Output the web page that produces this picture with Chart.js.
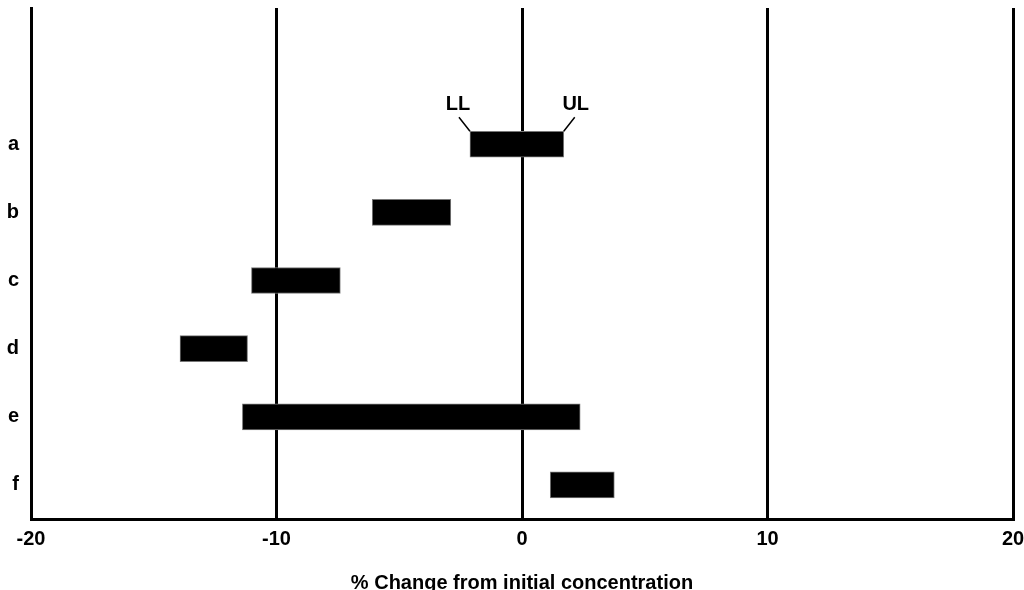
<!DOCTYPE html>
<html>
<head>
<meta charset="utf-8">
<script src="https://cdn.jsdelivr.net/npm/chart.js@4"></script>
<style>
  html, body { margin: 0; padding: 0; background: #fff; overflow: hidden; }
  #wrap { width: 1024px; height: 600px; }
</style>
</head>
<body>
<div id="wrap"><canvas id="c" width="1024" height="600"></canvas></div>
<script>
// Sample groups, top to bottom
const categories = ['a', 'b', 'c', 'd', 'e', 'f'];
// Lower and upper limits of % change for each group
const lowerLimits = [-2.12, -6.10, -11.02, -13.93, -11.39, 1.15];
const upperLimits = [1.70, -2.90, -7.40, -11.18, 2.37, 3.76];
// X-axis tick values
const xTicks = [-20, -10, 0, 10, 20];

const FONT = "'Liberation Sans', Arial, sans-serif";

const barData = categories.map((c, i) => ({ y: i, x: [lowerLimits[i], upperLimits[i]] }));

// Labels the ends of the first bar with LL / UL and short leader lines
const limitLabels = {
  id: 'limitLabels',
  afterDatasetsDraw(chart) {
    const bar = chart.getDatasetMeta(0).data[0];
    if (!bar) return;
    const props = bar.getProps(['x', 'y', 'base', 'height'], true);
    const left = Math.min(props.x, props.base);
    const right = Math.max(props.x, props.base);
    const top = props.y - props.height / 2;
    const ctx = chart.ctx;
    ctx.save();
    ctx.strokeStyle = '#000';
    ctx.lineWidth = 1.5;
    ctx.beginPath();
    ctx.moveTo(left, top);
    ctx.lineTo(left - 11, top - 14);
    ctx.moveTo(right, top);
    ctx.lineTo(right + 11, top - 14);
    ctx.stroke();
    ctx.fillStyle = '#000';
    ctx.font = 'bold 20px ' + FONT;
    ctx.textAlign = 'center';
    ctx.textBaseline = 'middle';
    ctx.fillText('LL', left - 12, top - 27);
    ctx.fillText('UL', right + 12, top - 27);
    ctx.restore();
  }
};

new Chart(document.getElementById('c'), {
  type: 'bar',
  data: {
    datasets: [{
      data: barData,
      backgroundColor: '#000',
      borderColor: '#777',
      borderWidth: 1,
      borderSkipped: false,
      barThickness: 26
    }]
  },
  options: {
    indexAxis: 'y',
    responsive: false,
    animation: false,
    layout: { padding: { top: 8, right: 11, left: 0, bottom: 5 } },
    plugins: { legend: { display: false }, tooltip: { enabled: false } },
    scales: {
      x: {
        type: 'linear',
        min: xTicks[0],
        max: xTicks[xTicks.length - 1],
        afterBuildTicks: (scale) => { scale.ticks = xTicks.map(v => ({ value: v })); },
        afterFit: (scale) => {
          scale.paddingLeft = 0;
          scale.paddingRight = 0;
        },
        grid: { color: '#000', lineWidth: 3, drawTicks: false },
        border: { display: true, color: '#000', width: 3 },
        ticks: { color: '#000', padding: 8, font: { family: FONT, size: 20, weight: 'bold' } },
        title: {
          display: true,
          text: '% Change from initial concentration',
          color: '#000',
          font: { family: FONT, size: 20, weight: 'bold' },
          padding: { top: 12, bottom: 0 }
        }
      },
      y: {
        type: 'linear',
        reverse: true,
        offset: false,
        min: -2,
        max: 5.5,
        afterBuildTicks: (scale) => { scale.ticks = categories.map((c, i) => ({ value: i })); },
        afterFit: (scale) => {
          scale.width = 31;
          scale.paddingTop = 0;
          scale.paddingBottom = 0;
        },
        grid: { display: false, drawTicks: false },
        border: { display: true, color: '#000', width: 3 },
        ticks: {
          color: '#000',
          padding: 12,
          font: { family: FONT, size: 20, weight: 'bold' },
          callback: (v) => categories[v]
        }
      }
    }
  },
  plugins: [limitLabels]
});
</script>
</body>
</html>
